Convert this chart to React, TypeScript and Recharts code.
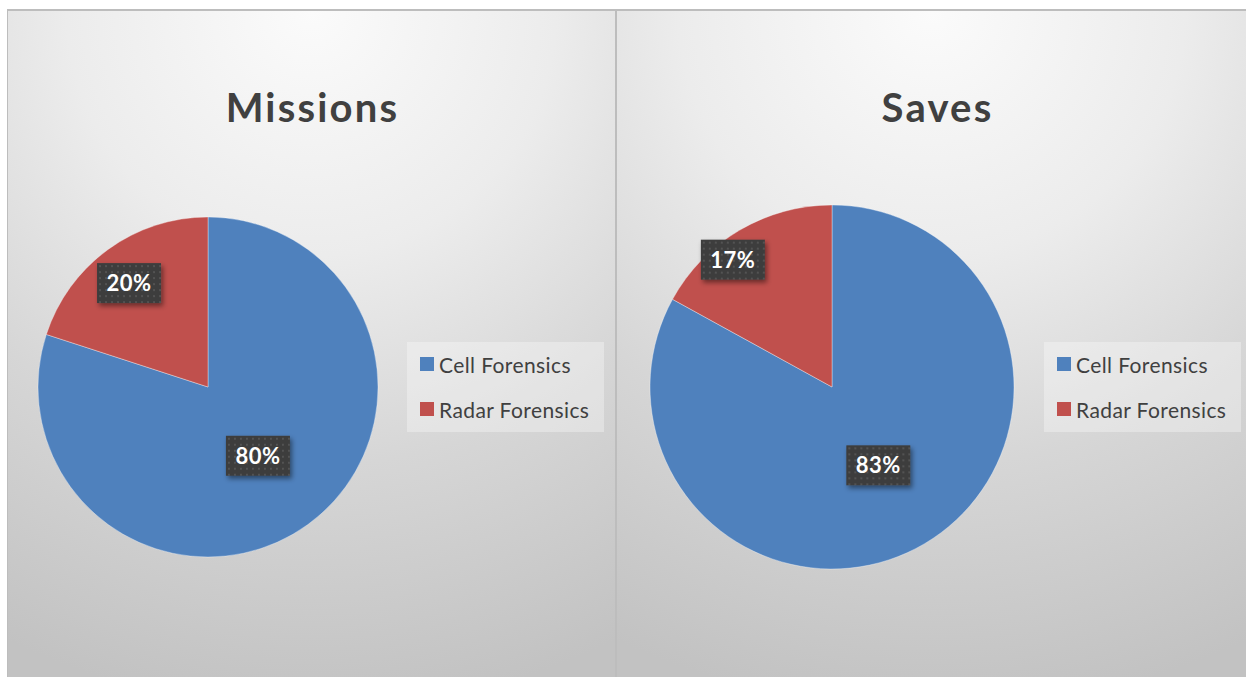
import { Legend, Pie, PieChart, Cell } from "recharts";

const categories = ["Cell Forensics", "Radar Forensics"];
const missionsValues = [80, 20];
const savesValues = [83, 17];
const sliceColors = ["#4f81bd", "#c0504d"];

const FONT = "Lato, 'Open Sans', sans-serif";
const RAD = Math.PI / 180;

interface PanelSpec {
  key: string;
  title: string;
  values: number[];
  left: number;
  width: number;
  cx: number;
  radius: number;
  titleShift: number;
  legendLeft: number;
  // label placement: fraction of radius + small pixel nudge, per slice
  labelRadius: number[];
  labelNudge: { dx: number; dy: number }[];
}

const panels: PanelSpec[] = [
  {
    key: "missions",
    title: "Missions",
    values: missionsValues,
    left: 8,
    width: 607,
    cx: 200,
    radius: 170,
    titleShift: 1,
    legendLeft: 399,
    labelRadius: [0.5, 0.77],
    labelNudge: [
      { dx: 0, dy: 0 },
      { dx: -2, dy: 2 },
    ],
  },
  {
    key: "saves",
    title: "Saves",
    values: savesValues,
    left: 617,
    width: 629,
    cx: 215,
    radius: 182,
    titleShift: 6,
    legendLeft: 427,
    labelRadius: [0.5, 0.8],
    labelNudge: [
      { dx: 0, dy: 0 },
      { dx: -25, dy: -2 },
    ],
  },
];

const PANEL_TOP = 11;
const PANEL_HEIGHT = 666;
const CY = 376;

function LegendBox() {
  return (
    <div
      style={{
        width: 197,
        height: 90,
        boxSizing: "border-box",
        background: "rgba(255,255,255,0.32)",
        fontFamily: FONT,
        fontSize: 21,
        letterSpacing: 0.4,
        color: "#404040",
        position: "relative",
      }}
    >
      {categories.map((name, i) => (
        <div
          key={name}
          style={{
            position: "absolute",
            left: 13,
            top: 22 + i * 45 - 12,
            height: 24,
            display: "flex",
            alignItems: "center",
            whiteSpace: "nowrap",
          }}
        >
          <span
            style={{
              width: 14,
              height: 14,
              background: sliceColors[i],
              marginRight: 5,
              display: "inline-block",
            }}
          />
          {name}
        </div>
      ))}
    </div>
  );
}

function makeLabel(spec: PanelSpec) {
  return (props: any) => {
    const { cx, cy, midAngle, outerRadius, percent, index } = props;
    const r = outerRadius * spec.labelRadius[index];
    const x = cx + r * Math.cos(-midAngle * RAD) + spec.labelNudge[index].dx;
    const y = cy + r * Math.sin(-midAngle * RAD) + spec.labelNudge[index].dy;
    const w = 64;
    const h = 40;
    const pid = `dots-${spec.key}-${index}`;
    const fid = `shadow-${spec.key}-${index}`;
    return (
      <g>
        <defs>
          <pattern id={pid} width="6" height="6" patternUnits="userSpaceOnUse" x={x - w / 2} y={y - h / 2}>
            <rect width="6" height="6" fill="#3d3d3d" />
            <rect x="2" y="2" width="2" height="2" fill="#525252" />
          </pattern>
          <filter id={fid} x="-30%" y="-30%" width="160%" height="170%">
            <feDropShadow dx="2" dy="3" stdDeviation="2.5" floodColor="#000" floodOpacity="0.45" />
          </filter>
        </defs>
        <rect x={x - w / 2} y={y - h / 2} width={w} height={h} fill={`url(#${pid})`} filter={`url(#${fid})`} />
        <text
          x={x}
          y={y + 8}
          textAnchor="middle"
          fill="#ffffff"
          fontFamily={FONT}
          fontWeight={700}
          fontSize={22}
          letterSpacing={0.5}
        >
          {`${Math.round(percent * 100)}%`}
        </text>
      </g>
    );
  };
}

function ChartPanel({ spec }: { spec: PanelSpec }) {
  const data = categories.map((name, i) => ({ name, value: spec.values[i] }));
  return (
    <div
      style={{
        position: "absolute",
        left: spec.left,
        top: PANEL_TOP,
        width: spec.width,
        height: PANEL_HEIGHT,
        background:
          "radial-gradient(ellipse 115% 105% at 50% 0%, #fbfbfb 0%, #ececec 35%, #d6d6d6 65%, #c2c2c2 100%)",
        overflow: "hidden",
      }}
    >
      <div
        style={{
          position: "absolute",
          left: spec.titleShift,
          top: 76,
          width: spec.width,
          textAlign: "center",
          fontFamily: FONT,
          fontWeight: 700,
          fontSize: 40,
          letterSpacing: 2.2,
          lineHeight: "40px",
          color: "#404040",
        }}
      >
        {spec.title}
      </div>
      <PieChart width={spec.width} height={PANEL_HEIGHT} margin={{ top: 0, right: 0, bottom: 0, left: 0 }}>
        <Pie
          data={data}
          dataKey="value"
          nameKey="name"
          cx={spec.cx}
          cy={CY}
          outerRadius={spec.radius}
          startAngle={90}
          endAngle={-270}
          stroke="rgba(255,255,255,0.35)"
          strokeWidth={1}
          label={makeLabel(spec)}
          labelLine={false}
          isAnimationActive={false}
        >
          {data.map((d, i) => (
            <Cell key={d.name} fill={sliceColors[i]} />
          ))}
        </Pie>
        <Legend
          content={<LegendBox />}
          wrapperStyle={{ left: spec.legendLeft, top: 331, width: 197, height: 90, bottom: "auto" }}
        />
      </PieChart>
    </div>
  );
}

export default function App() {
  return (
    <div style={{ position: "absolute", left: 0, top: 0, width: 1246, height: 677, background: "#ffffff" }}>
      <div style={{ position: "absolute", left: 7, top: 9, width: 1239, height: 2, background: "#bdbdbd" }} />
      <div style={{ position: "absolute", left: 7, top: 9, width: 1, height: 668, background: "#bdbdbd" }} />
      <div style={{ position: "absolute", left: 615, top: 9, width: 2, height: 668, background: "#bdbdbd" }} />
      {panels.map((p) => (
        <ChartPanel key={p.key} spec={p} />
      ))}
    </div>
  );
}
